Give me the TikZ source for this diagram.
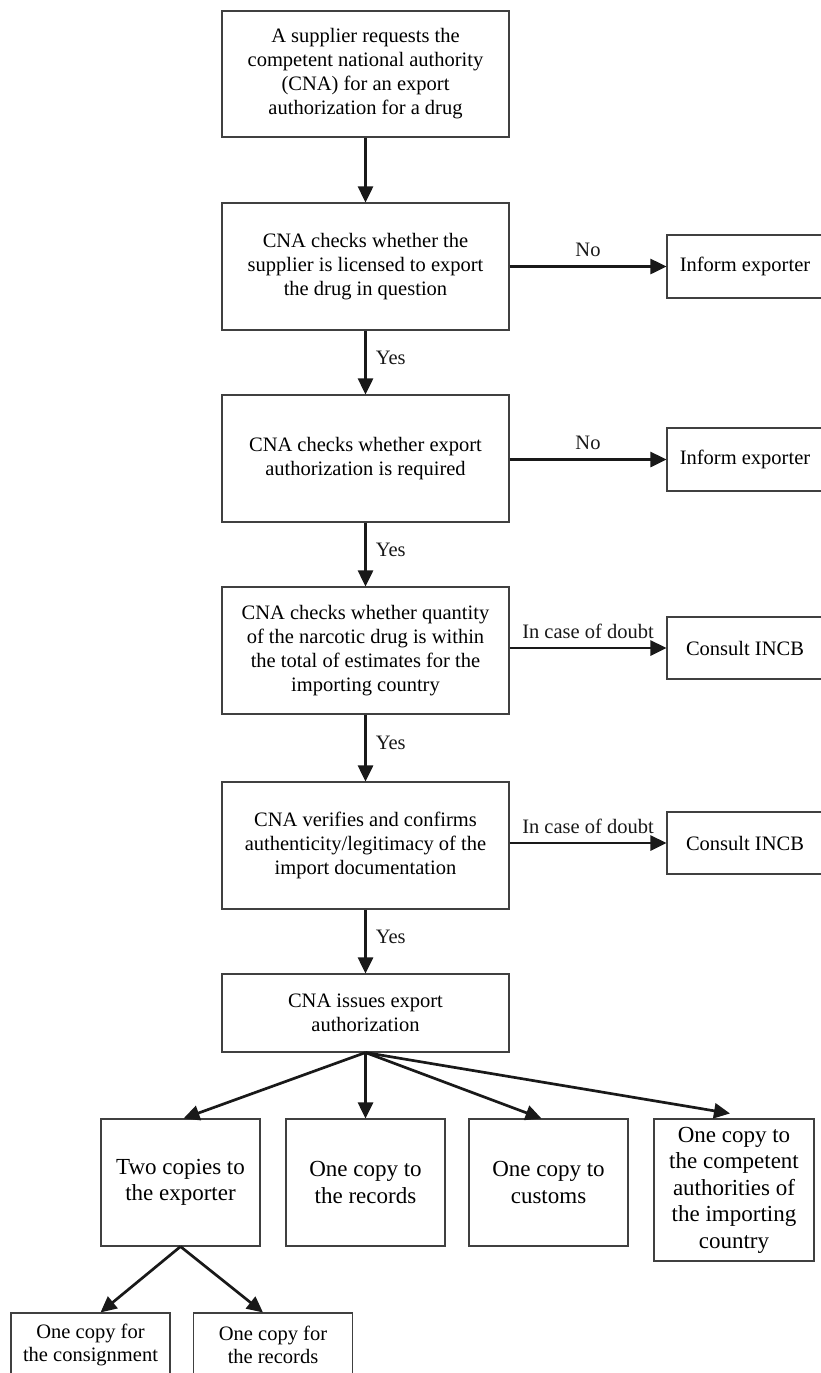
\documentclass[tikz,border=0pt]{standalone}
\usepackage{fontspec}
\setmainfont{Liberation Serif}
\usetikzlibrary{arrows.meta}
\begin{document}
\begin{tikzpicture}[x=1pt,y=-1pt,
  box/.style={draw=black!75, line width=1.1pt, align=center, inner sep=0pt, font=\fontsize{20.5}{24}\selectfont},
  mainbox/.style={box, minimum width=287pt, minimum height=127pt},
  sidebox/.style={box, minimum width=156pt, minimum height=63pt},
  copybox/.style={box, minimum width=159pt, minimum height=127pt, font=\fontsize{23}{26.5}\selectfont},
  leafbox/.style={box, minimum width=159pt, minimum height=64pt, font=\fontsize{20.5}{23}\selectfont},
  arr/.style={line width=2.7pt, black!90, -{Triangle[length=16pt,width=15pt]}},
  lbl/.style={font=\fontsize{20.5}{24}\selectfont, inner sep=0pt}
]
\useasboundingbox (0,0) rectangle (821,1373);
\fill[white] (0,0) rectangle (821,1373);

% main column
\node[mainbox, minimum height=126pt] (b1) at (365.5,74) {A supplier requests the\\competent national authority\\(CNA) for an export\\authorization for a drug};
\node[mainbox] (b2) at (365.5,266.5) {CNA checks whether the\\supplier is licensed to export\\the drug in question};
\node[mainbox] (b3) at (365.5,458.5) {CNA checks whether export\\authorization is required};
\node[mainbox] (b4) at (365.5,650.5) {CNA checks whether quantity\\of the narcotic drug is within\\the total of estimates for the\\importing country};
\node[mainbox] (b5) at (365.5,845.5) {CNA verifies and confirms\\authenticity/legitimacy of the\\import documentation};
\node[mainbox, minimum height=78pt] (b6) at (365.5,1013) {CNA issues export\\authorization};

% side boxes
\node[sidebox] (s1) at (745,266.5) {Inform exporter};
\node[sidebox] (s2) at (745,459.5) {Inform exporter};
\node[sidebox, minimum height=62pt] (s3) at (745,648) {Consult INCB};
\node[sidebox, minimum height=62pt] (s4) at (745,843) {Consult INCB};

% copies
\node[copybox] (cA) at (180.5,1182.5) {Two copies to\\the exporter};
\node[copybox] (cB) at (365.5,1182.5) {One copy to\\the records};
\node[copybox] (cC) at (548.5,1182.5) {One copy to\\customs};
\node[copybox, minimum width=160pt, minimum height=142pt] (cD) at (734,1190) {One copy to\\the competent\\authorities of\\the importing\\country};

% leaves
\node[leafbox] (lL) at (90.5,1345) {One copy for\\the consignment};
\node[leafbox] (lR) at (273,1345) {One copy for\\the records};

% vertical flow
\draw[arr] (b1) -- (b2);
\draw[arr] (b2) -- node[lbl, pos=0.42, anchor=west, xshift=9pt] {Yes} (b3);
\draw[arr] (b3) -- node[lbl, pos=0.42, anchor=west, xshift=9pt] {Yes} (b4);
\draw[arr] (b4) -- node[lbl, pos=0.42, anchor=west, xshift=9pt] {Yes} (b5);
\draw[arr] (b5) -- node[lbl, pos=0.42, anchor=west, xshift=9pt] {Yes} (b6);

% side flow
\draw[arr] (b2.east |- s1.west) -- node[lbl, above=8pt] {No} (s1.west);
\draw[arr] (b3.east |- s2.west) -- node[lbl, above=8pt] {No} (s2.west);
\draw[arr] (b4.east |- s3.west) -- node[lbl, above=8pt] {In case of doubt} (s3.west);
\draw[arr] (b5.east |- s4.west) -- node[lbl, above=8pt] {In case of doubt} (s4.west);

% fan out
\draw[arr] (b6.south) -- ([xshift=3pt]cA.north);
\draw[arr] (b6.south) -- (cB.north);
\draw[arr] (b6.south) -- ([xshift=-7pt]cC.north);
\draw[arr] (b6.south) -- ([xshift=-4pt,yshift=5pt]cD.north);

\draw[arr] (cA.south) -- ([xshift=10pt]lL.north);
\draw[arr] (cA.south) -- ([xshift=-10pt]lR.north);
\end{tikzpicture}
\end{document}
